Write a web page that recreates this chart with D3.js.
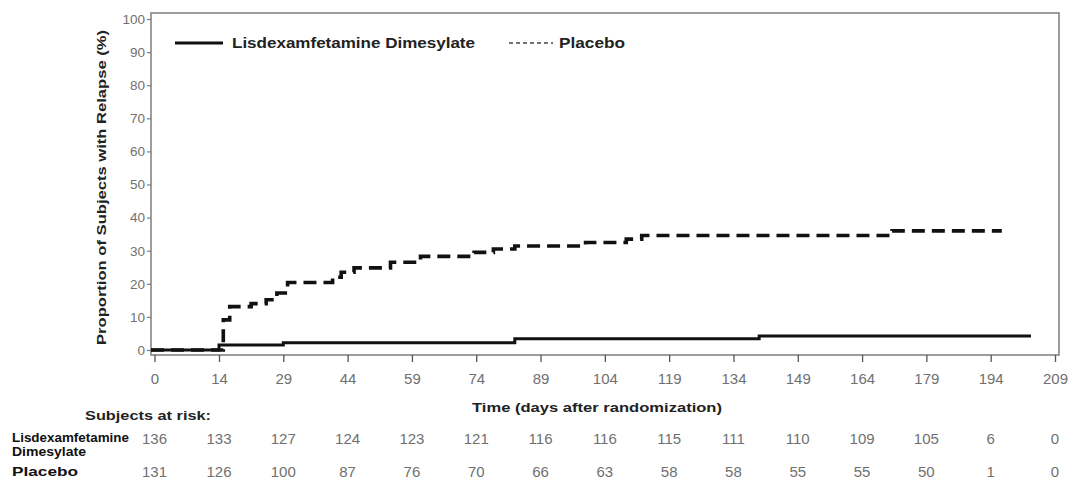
<!DOCTYPE html>
<html>
<head>
<meta charset="utf-8">
<script src="https://cdn.jsdelivr.net/npm/d3@7"></script>
<style>
  html, body { margin: 0; padding: 0; background: #fff; }
  svg { display: block; font-family: "Liberation Sans", Arial, sans-serif; }
</style>
</head>
<body>
<svg id="chart" width="1072" height="482"></svg>
<script>
// ---------- data ----------
const seriesNames = ["Lisdexamfetamine Dimesylate", "Placebo"];
const riskRowLabels = [["Lisdexamfetamine", "Dimesylate"], ["Placebo"]];
const xTickLabels = [0, 14, 29, 44, 59, 74, 89, 104, 119, 134, 149, 164, 179, 194, 209];
const yTickLabels = [0, 10, 20, 30, 40, 50, 60, 70, 80, 90, 100];

// Kaplan-Meier style cumulative relapse (%), step changes (day, %)
const ldxDays   = [0, 14, 29, 83, 140];
const ldxValues = [0, 1.5, 2.2, 3.4, 4.2];
const ldxEnd = 203.4;

const pboDays   = [0, 15, 16.5, 21.5, 25, 27.5, 30, 40.5, 42.5, 45.5, 54, 61, 73.5, 78, 83, 99.5, 109, 112.6, 171];
const pboValues = [0, 9.1, 13.1, 14, 15.2, 17.2, 20.4, 22, 23.5, 24.8, 26.5, 28.3, 29.5, 30.5, 31.4, 32.5, 33.5, 34.6, 36.0];
const pboEnd = 196.6;

const riskLdx = [136, 133, 127, 124, 123, 121, 116, 116, 115, 111, 110, 109, 105, 6, 0];
const riskPbo = [131, 126, 100, 87, 76, 70, 66, 63, 58, 58, 55, 55, 50, 1, 0];

// ---------- layout ----------
const svg = d3.select("#chart");
const frame = { left: 151, top: 13, right: 1059, bottom: 355 };

// axis origin offset: first interval drawn one day wider (as in the source figure)
const x = d3.scaleLinear()
  .domain([-0.8, 0, 14, 209, 210])
  .range([frame.left, 154.5, 219, 1055, frame.right]);
const y = d3.scaleLinear().domain([0, 100]).range([350, 19]);

const grey = "#707070";

// frame
svg.append("rect")
  .attr("x", frame.left).attr("y", frame.top)
  .attr("width", frame.right - frame.left).attr("height", frame.bottom - frame.top)
  .attr("fill", "none").attr("stroke", "#7d7d7d").attr("stroke-width", 1.5);

// y axis
const yAxis = d3.axisLeft(y).tickValues(yTickLabels).tickSize(4).tickPadding(2);
const gy = svg.append("g").attr("transform", `translate(${frame.left},0)`).call(yAxis);
gy.select(".domain").remove();
gy.selectAll(".tick line").attr("stroke", "#7d7d7d").attr("stroke-width", 1.2);
gy.selectAll(".tick text").attr("fill", grey).style("font-size", "13.5px")
  .style("font-family", "'Liberation Sans', Arial, sans-serif");

// x axis
const xAxis = d3.axisBottom(x).tickValues(xTickLabels).tickSize(7).tickPadding(11);
const gx = svg.append("g").attr("transform", `translate(0,${frame.bottom})`).call(xAxis);
gx.select(".domain").remove();
gx.selectAll(".tick line").attr("stroke", "#555").attr("stroke-width", 1.3);
gx.selectAll(".tick text").attr("fill", grey).style("font-size", "15px")
  .style("font-family", "'Liberation Sans', Arial, sans-serif");

// step lines
function stepData(days, vals, end) {
  const pts = days.map((d, i) => ({ t: i === 0 ? x.domain()[0] : d, v: vals[i] }));
  pts.push({ t: end, v: vals[vals.length - 1] });
  return pts;
}
const line = d3.line().x(d => x(d.t)).y(d => y(d.v)).curve(d3.curveStepAfter);

svg.append("path")
  .attr("d", line(stepData(pboDays, pboValues, pboEnd)))
  .attr("fill", "none").attr("stroke", "#111").attr("stroke-width", 3.6)
  .attr("stroke-dasharray", "13,7");

svg.append("path")
  .attr("d", line(stepData(ldxDays, ldxValues, ldxEnd)))
  .attr("fill", "none").attr("stroke", "#111").attr("stroke-width", 3);

// legend
const leg = svg.append("g");
leg.append("line").attr("x1", 175).attr("x2", 223).attr("y1", 43).attr("y2", 43)
  .attr("stroke", "#111").attr("stroke-width", 3.2);
leg.append("text").attr("x", 232).attr("y", 48).text(seriesNames[0])
  .attr("fill", "#222").style("font-size", "14px").style("font-weight", "bold")
  .attr("textLength", 243).attr("lengthAdjust", "spacingAndGlyphs");
leg.append("line").attr("x1", 509).attr("x2", 553).attr("y1", 43).attr("y2", 43)
  .attr("stroke", "#444").attr("stroke-width", 1.4).attr("stroke-dasharray", "4,3");
leg.append("text").attr("x", 559).attr("y", 48).text(seriesNames[1])
  .attr("fill", "#222").style("font-size", "14px").style("font-weight", "bold")
  .attr("textLength", 66).attr("lengthAdjust", "spacingAndGlyphs");

// axis titles
svg.append("text")
  .attr("transform", `translate(106,${(30 + 345) / 2}) rotate(-90)`)
  .attr("text-anchor", "middle")
  .attr("fill", "#222").style("font-size", "13.5px").style("font-weight", "bold")
  .attr("textLength", 315).attr("lengthAdjust", "spacingAndGlyphs")
  .text("Proportion of Subjects with Relapse (%)");

svg.append("text")
  .attr("x", 597).attr("y", 412).attr("text-anchor", "middle")
  .attr("fill", "#222").style("font-size", "13.5px").style("font-weight", "bold")
  .attr("textLength", 250).attr("lengthAdjust", "spacingAndGlyphs")
  .text("Time (days after randomization)");

// risk table
svg.append("text").attr("x", 85).attr("y", 420)
  .attr("fill", "#222").style("font-size", "13.5px").style("font-weight", "bold")
  .attr("textLength", 126).attr("lengthAdjust", "spacingAndGlyphs")
  .text("Subjects at risk:");

const rowLabelFont = "'Liberation Sans Narrow', 'Arial Narrow', 'Liberation Sans', sans-serif";
svg.append("text").attr("x", 12).attr("y", 442)
  .attr("fill", "#111").style("font-size", "12px").style("font-weight", "bold")
  .style("font-family", rowLabelFont)
  .attr("textLength", 117).attr("lengthAdjust", "spacingAndGlyphs")
  .text(riskRowLabels[0][0]);
svg.append("text").attr("x", 12).attr("y", 456)
  .attr("fill", "#111").style("font-size", "12px").style("font-weight", "bold")
  .style("font-family", rowLabelFont)
  .attr("textLength", 74).attr("lengthAdjust", "spacingAndGlyphs")
  .text(riskRowLabels[0][1]);
svg.append("text").attr("x", 12).attr("y", 476)
  .attr("fill", "#111").style("font-size", "12px").style("font-weight", "bold")
  .style("font-family", rowLabelFont)
  .attr("textLength", 66).attr("lengthAdjust", "spacingAndGlyphs")
  .text(riskRowLabels[1][0]);

function riskRow(vals, baseline) {
  svg.append("g").selectAll("text").data(vals).join("text")
    .attr("x", (d, i) => x(xTickLabels[i]))
    .attr("y", baseline)
    .attr("text-anchor", "middle")
    .attr("fill", grey).style("font-size", "15px")
    .text(d => d);
}
riskRow(riskLdx, 444);
riskRow(riskPbo, 477);
</script>
</body>
</html>
